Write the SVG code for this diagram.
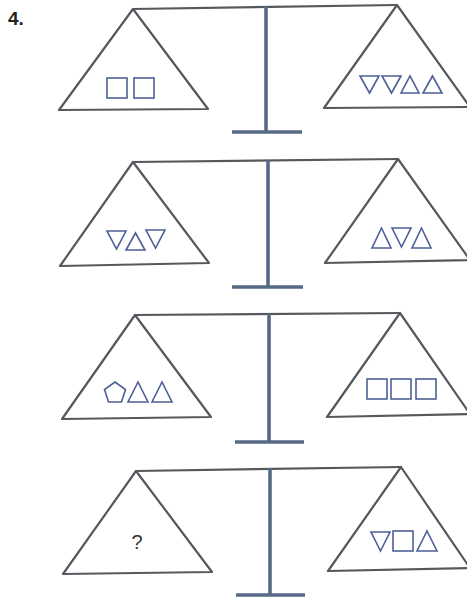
<svg xmlns="http://www.w3.org/2000/svg" width="467" height="600" viewBox="0 0 467 600">
<style>
.pan{fill:none;stroke:#55595e;stroke-width:2.2;stroke-linejoin:round}
.beam{fill:none;stroke:#55595e;stroke-width:2.2}
.stand{fill:none;stroke:#566a86;stroke-width:3.6}
.sh{fill:none;stroke:#4d5f96;stroke-width:1.6;stroke-linejoin:miter}
.lbl{font-family:"Liberation Sans",Arial,sans-serif}
</style>
<rect width="467" height="600" fill="#fff"/>
<text class="lbl" x="8" y="25" font-size="19" font-weight="bold" fill="#222">4.</text>

<g id="scale1">
<line class="beam" x1="133" y1="9" x2="397" y2="5"/>
<polyline class="stand" points="266,6 266,132"/>
<line class="stand" x1="232" y1="132" x2="302" y2="132"/>
<polygon class="pan" points="133,9 59,110 208,109"/>
<polygon class="pan" points="397,5 324,108 470,107"/>
<rect class="sh" x="107" y="78" width="20" height="20"/>
<rect class="sh" x="134" y="78" width="20" height="20"/>
<polygon class="sh" points="360,76 379,76 369.5,93"/>
<polygon class="sh" points="382,76 401,76 391.5,93"/>
<polygon class="sh" points="401,93 419,93 410,76"/>
<polygon class="sh" points="423,93 442,93 432.5,76"/>
</g>

<g id="scale2">
<line class="beam" x1="133" y1="162" x2="398" y2="159"/>
<line class="stand" x1="268" y1="160" x2="268" y2="287"/>
<line class="stand" x1="232" y1="287" x2="303" y2="287"/>
<polygon class="pan" points="133,162 60,266 209,263"/>
<polygon class="pan" points="398,159 325,263 470,260"/>
<polygon class="sh" points="107,231 126,231 116.5,249"/>
<polygon class="sh" points="126,250 145,250 135.5,233"/>
<polygon class="sh" points="146,230 165,230 155.5,248"/>
<polygon class="sh" points="372,248 391,248 381.5,228"/>
<polygon class="sh" points="392,228 411,228 401.5,247"/>
<polygon class="sh" points="412,248 431,248 421.5,228"/>
</g>

<g id="scale3">
<line class="beam" x1="135" y1="315" x2="400" y2="313"/>
<line class="stand" x1="269" y1="314" x2="269" y2="442"/>
<line class="stand" x1="235" y1="442" x2="304" y2="442"/>
<polygon class="pan" points="135,315 62,419 211,417"/>
<polygon class="pan" points="400,313 327,417 470,414"/>
<polygon class="sh" points="115,382 125.5,389.5 121.5,402 108.5,402 104.5,389.5"/>
<polygon class="sh" points="128,402 148,402 138,382"/>
<polygon class="sh" points="152,402 172,402 162,382"/>
<rect class="sh" x="367" y="379" width="20" height="20"/>
<rect class="sh" x="391" y="379" width="20" height="20"/>
<rect class="sh" x="416" y="379" width="20" height="20"/>
</g>

<g id="scale4">
<line class="beam" x1="136" y1="471" x2="401" y2="467"/>
<line class="stand" x1="270" y1="468" x2="270" y2="595"/>
<line class="stand" x1="236" y1="595" x2="305" y2="595"/>
<polygon class="pan" points="136,471 63,574 212,572"/>
<polygon class="pan" points="401,467 328,571 470,568"/>
<text class="lbl" x="137" y="549" font-size="20" text-anchor="middle" fill="#333">?</text>
<polygon class="sh" points="371,532 390,532 380.5,551"/>
<rect class="sh" x="393" y="531" width="20" height="20"/>
<polygon class="sh" points="417,551 437,551 427,531"/>
</g>
</svg>
